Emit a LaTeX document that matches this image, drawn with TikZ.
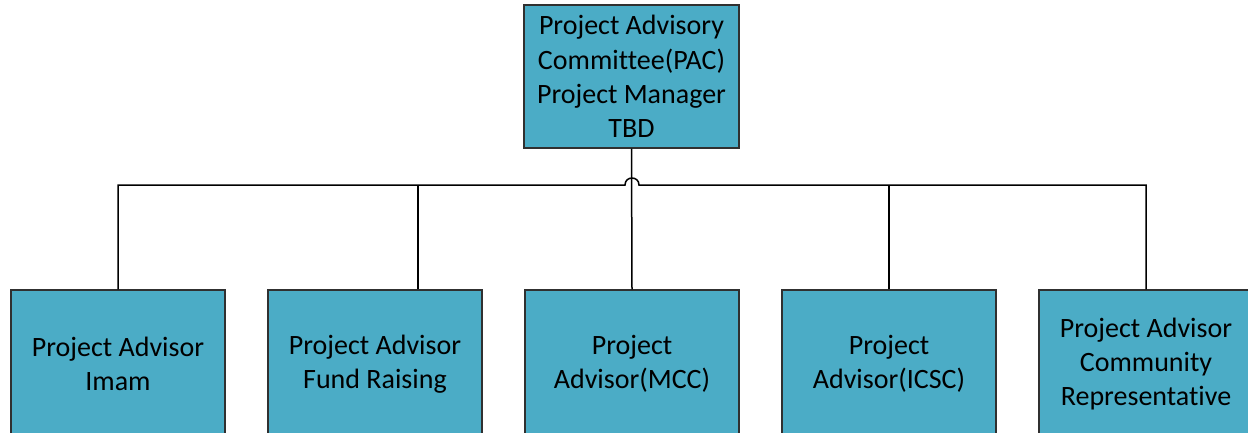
\documentclass[tikz,border=0pt]{standalone}
\usepackage{fontspec}
\setmainfont{Carlito}[Ligatures=NoCommon]
\usetikzlibrary{calc}
\definecolor{boxfill}{HTML}{4BACC6}
\definecolor{boxline}{HTML}{303030}
\begin{document}
\begin{tikzpicture}[x=1pt,y=-1pt,
  orgbox/.style={draw=boxline,line width=1.2pt,fill=boxfill,minimum width=214pt,minimum height=143pt,
    inner sep=0pt,align=center,font=\fontsize{28}{34.3}\selectfont},
  conn/.style={draw=black,line width=1.5pt}]
\useasboundingbox (0,0) rectangle (1248,432);
\node[orgbox,minimum width=215pt] (top) at (631.5,76.5) {Project Advisory\\Committee(PAC)\\Project Manager\\TBD};
\tikzset{lower/.style={orgbox,minimum height=148pt}}
\node[lower] (b1) at (118,364) {Project Advisor\\Imam};
\node[lower] (b2) at (375,364) {Project Advisor\\Fund Raising};
\node[lower] (b3) at (632,364) {Project\\Advisor(MCC)};
\node[lower] (b4) at (889,364) {Project\\Advisor(ICSC)};
\node[lower] (b5) at (1146,364) {Project Advisor\\Community\\Representative};
\coordinate (busl) at (118,185);
\coordinate (j2) at ($(b2.north)+(43,0)$);
\coordinate (hopl) at (625,185);
\coordinate (hopr) at (639,185);
\draw[conn] (top.south) -- (b3.north);
\draw[conn] (b1.north) -- (busl) -- (hopl) .. controls (625,175.7) and (639,175.7) .. (hopr) -| (b5.north);
\draw[conn] (j2) -- (j2 |- busl);
\draw[conn] (b4.north) -- (b4.north |- busl);
\end{tikzpicture}
\end{document}
